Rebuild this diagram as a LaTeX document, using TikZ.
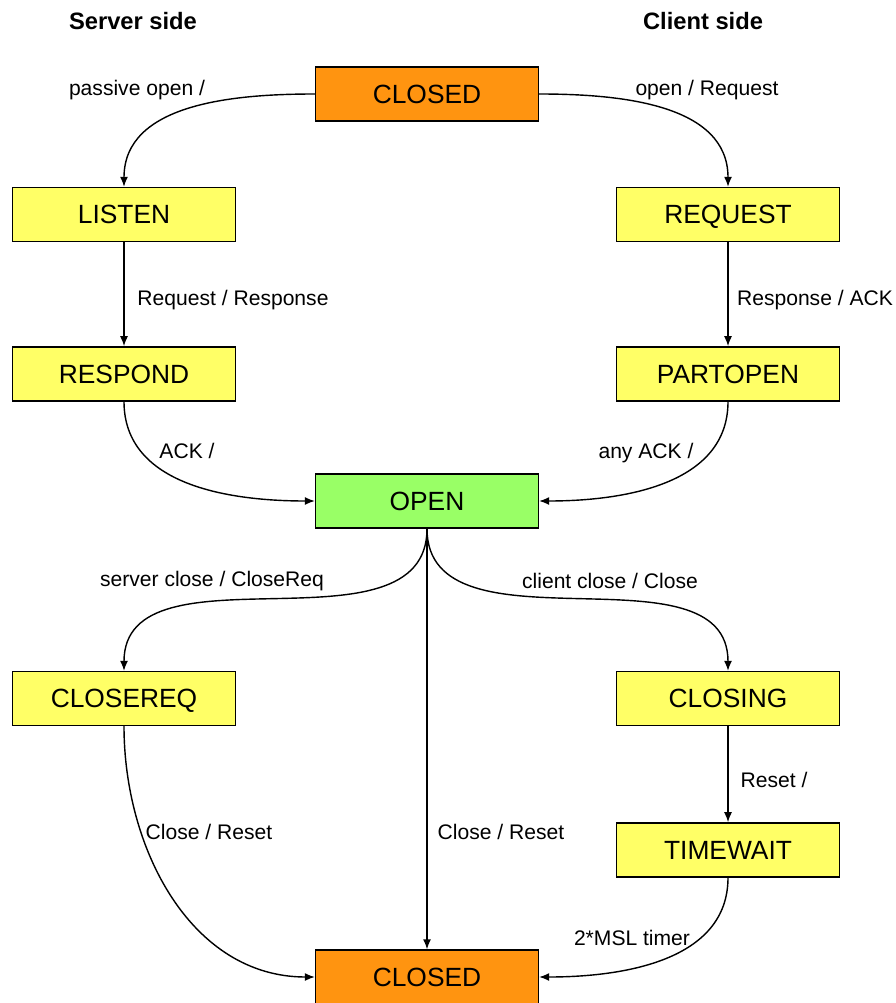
\documentclass[tikz,border=0pt]{standalone}
\usepackage{fontspec}
\setmainfont{Liberation Sans}
\usepackage{xcolor}
\usetikzlibrary{arrows.meta,positioning}

\definecolor{closedfill}{HTML}{FF9410}
\definecolor{statefill}{HTML}{FFFF66}
\definecolor{openfill}{HTML}{99FF66}

\begin{document}
\begin{tikzpicture}[
  x=0.02cm, y=-0.02cm,
  node distance=2.08cm and 4mm,
  state/.style={draw, line width=0.8pt, minimum width=4.46cm, minimum height=1.08cm, inner sep=0pt, text height=10.5pt, text depth=0pt, fill=statefill, font=\fontsize{15}{17}\selectfont},
  closedbox/.style={state, fill=closedfill},
  openbox/.style={state, fill=openfill},
  lbl/.style={font=\fontsize{12}{14}\selectfont, inner sep=1pt, text height=8.5pt, text depth=2.5pt},
  side/.style={font=\bfseries\fontsize{13.5}{15}\selectfont},
  arrow/.style={-{Latex[length=2mm,width=1.6mm]}, line width=0.8pt}
]
\useasboundingbox (0,0) rectangle (895,1003);

\node[side] (server) at (133,21) {Server side};
\node[side] (client) at (703,21) {Client side};

\node[closedbox] (closedtop) at (427,94) {CLOSED};
\node[state] (listen) at (124,214.5) {LISTEN};
\node[state] (request) at (728,214.5) {REQUEST};
\node[state, below=of listen] (respond) {RESPOND};
\node[state, below=of request] (partopen) {PARTOPEN};
\node[openbox] (open) at (427,501) {OPEN};
\node[state] (closereq) at (124,698.5) {CLOSEREQ};
\node[state] (closing) at (728,698.5) {CLOSING};
\node[state, below=1.92cm of closing] (timewait) {TIMEWAIT};
\node[closedbox] (closedbot) at (427,977) {CLOSED};

% labels
\node[lbl] (l1) at (137,90) {passive open /};
\node[lbl] (l2) at (707,90) {open / Request};
\node[lbl] (l3) at (233,300) {Request / Response};
\node[lbl] (l4) at (815,300) {Response / ACK};
\node[lbl] (l5) at (187,453) {ACK /};
\node[lbl] (l6) at (646,453) {any ACK /};
\node[lbl] (l7) at (212,581) {server close / CloseReq};
\node[lbl] (l8) at (610,583) {client close / Close};
\node[lbl] (l9) at (209,834) {Close / Reset};
\node[lbl] (l10) at (501,834) {Close / Reset};
\node[lbl] (l11) at (774,782) {Reset /};
\node[lbl] (l12) at (632,940) {2*MSL timer};

\draw[arrow] (closedtop.west) to[out=180,in=90] (listen.north);
\draw[arrow] (closedtop.east) to[out=0,in=90] (request.north);
\draw[arrow] (listen) -- (respond);
\draw[arrow] (request) -- (partopen);
\draw[arrow] (respond.south) to[out=-90,in=180] (open.west);
\draw[arrow] (partopen.south) to[out=-90,in=0] (open.east);
\draw[arrow] (open.south) to[out=-90,in=90] (closereq.north);
\draw[arrow] (open.south) to[out=-90,in=90] (closing.north);
\draw[arrow] (open) -- (closedbot);
\draw[arrow] (closereq.south) to[out=-90,in=180] (closedbot.west);
\draw[arrow] (closing) -- (timewait);
\draw[arrow] (timewait.south) to[out=-90,in=0] (closedbot.east);
\end{tikzpicture}
\end{document}
